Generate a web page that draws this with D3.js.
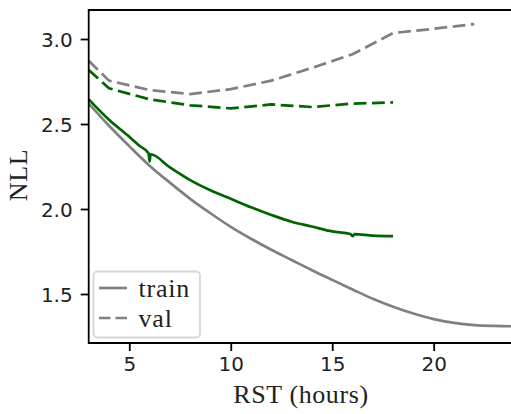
<!DOCTYPE html>
<html>
<head>
<meta charset="utf-8">
<script src="https://cdn.jsdelivr.net/npm/d3@7"></script>
<style>
  body { margin: 0; background: #fff; }
  svg { display: block; }
  .serif { font-family: "Liberation Serif", "DejaVu Serif", serif; }
</style>
</head>
<body>
<svg></svg>
<script>
// hours (RST) and NLL
const grayTrainX = [3, 4, 5, 6, 7, 8, 9, 10, 11, 12, 13, 14, 15, 16, 17, 18, 19, 20, 21, 22, 23, 24];
const grayTrainY = [2.62, 2.49, 2.37, 2.255, 2.155, 2.06, 1.975, 1.895, 1.825, 1.76, 1.70, 1.64, 1.583, 1.527, 1.472, 1.425, 1.385, 1.352, 1.33, 1.317, 1.312, 1.31];

const greenTrainX = [3, 4, 5, 5.5, 5.95, 6.0, 6.05, 7, 8, 9, 10, 11, 12, 13, 14, 15, 15.9, 16.0, 16.1, 17, 18];
const greenTrainY = [2.645, 2.525, 2.425, 2.372, 2.328, 2.28, 2.322, 2.245, 2.17, 2.11, 2.06, 2.01, 1.965, 1.925, 1.897, 1.868, 1.853, 1.84, 1.852, 1.843, 1.84];

const grayValX = [3, 4, 6, 8, 10, 12, 14, 16, 18, 20, 22];
const grayValY = [2.872, 2.755, 2.70, 2.676, 2.705, 2.755, 2.83, 2.91, 3.035, 3.06, 3.088];

const greenValX = [3, 4, 6, 8, 10, 12, 14, 16, 18];
const greenValY = [2.818, 2.71, 2.645, 2.61, 2.592, 2.615, 2.60, 2.62, 2.627];

const xTicks = [5, 10, 15, 20];
const yTicks = [1.5, 2.0, 2.5, 3.0];

const width = 511;
const height = 414;
const marginLeft = 88.7;
const plotTop = 10;
const plotBottom = 343;

const x = d3.scaleLinear().domain([3, 23.95]).range([marginLeft, marginLeft + 20.95 * 20.293]);
const y = d3.scaleLinear().domain([3.1706, 1.2118]).range([plotTop, plotBottom]);

const svg = d3.select("svg")
    .attr("width", width)
    .attr("height", height)
    .attr("viewBox", [0, 0, width, height]);

svg.append("clipPath").attr("id", "clip")
  .append("rect")
    .attr("x", marginLeft).attr("y", plotTop)
    .attr("width", x.range()[1] - marginLeft).attr("height", plotBottom - plotTop);

const smooth = d3.line().x(d => x(d[0])).y(d => y(d[1])).curve(d3.curveMonotoneX);
const straight = d3.line().x(d => x(d[0])).y(d => y(d[1]));
const zip = (xs, ys) => xs.map((v, i) => [v, ys[i]]);

const series = [
  {pts: zip(grayTrainX, grayTrainY), color: "#808080", dash: null},
  {pts: zip(grayValX, grayValY), color: "#808080", dash: "12.8,5.5"},
  {pts: zip(greenTrainX, greenTrainY), color: "#006400", dash: null},
  {pts: zip(greenValX, greenValY), color: "#006400", dash: "12.8,5.5"},
];

const plot = svg.append("g").attr("clip-path", "url(#clip)");
plot.selectAll("path")
  .data(series)
  .join("path")
    .attr("d", d => d.dash ? straight(d.pts) : smooth(d.pts))
    .attr("fill", "none")
    .attr("stroke", d => d.color)
    .attr("stroke-width", 2.7)
    .attr("stroke-dasharray", d => d.dash)
    .attr("stroke-linejoin", "round");

// axes
const gx = svg.append("g")
    .attr("transform", `translate(0,${plotBottom})`)
    .call(d3.axisBottom(x).tickValues(xTicks).tickSize(8).tickPadding(6).tickFormat(d3.format("d")));
const gy = svg.append("g")
    .attr("transform", `translate(${marginLeft},0)`)
    .call(d3.axisLeft(y).tickValues(yTicks).tickSize(8).tickPadding(8).tickFormat(d3.format(".1f")));

[gx, gy].forEach(g => {
  g.select(".domain").remove();
  g.selectAll(".tick line").attr("stroke", "#000").attr("stroke-width", 1.8);
  g.selectAll(".tick text")
    .attr("fill", "#222")
    .attr("font-family", "DejaVu Sans, sans-serif")
    .attr("font-size", 20);
});
gy.selectAll(".tick text").attr("dy", "0.36em");

// spines
svg.append("path")
    .attr("d", `M${x.range()[1] + 5},${plotTop}H${marginLeft}V${plotBottom}H${x.range()[1] + 5}`)
    .attr("fill", "none")
    .attr("stroke", "#000")
    .attr("stroke-width", 1.8);

// labels
svg.append("text")
    .attr("class", "serif")
    .attr("x", 301).attr("y", 403)
    .attr("text-anchor", "middle")
    .attr("font-size", 26)
    .attr("letter-spacing", 0.6)
    .attr("fill", "#222")
    .text("RST (hours)");

svg.append("text")
    .attr("class", "serif")
    .attr("transform", "translate(27,175) rotate(-90)")
    .attr("text-anchor", "middle")
    .attr("font-size", 26)
    .attr("letter-spacing", 0.6)
    .attr("fill", "#222")
    .text("NLL");

// legend
const legend = svg.append("g");
legend.append("rect")
    .attr("x", 93.5).attr("y", 271.5)
    .attr("width", 106.5).attr("height", 66)
    .attr("rx", 4)
    .attr("fill", "#fff").attr("fill-opacity", 0.8)
    .attr("stroke", "#d6d6d6").attr("stroke-width", 1.8);

const legendItems = [
  {label: "train", dash: null, y: 288},
  {label: "val", dash: "11.5,5", y: 318},
];
const li = legend.selectAll("g.item").data(legendItems).join("g").attr("class", "item");
li.append("line")
    .attr("x1", 99).attr("x2", 127)
    .attr("y1", d => d.y).attr("y2", d => d.y)
    .attr("stroke", "#808080")
    .attr("stroke-width", 2.7)
    .attr("stroke-dasharray", d => d.dash);
li.append("text")
    .attr("class", "serif")
    .attr("x", 138.5).attr("y", d => d.y + 9)
    .attr("font-size", 26)
    .attr("letter-spacing", 0.8)
    .attr("fill", "#222")
    .text(d => d.label);
</script>
</body>
</html>
